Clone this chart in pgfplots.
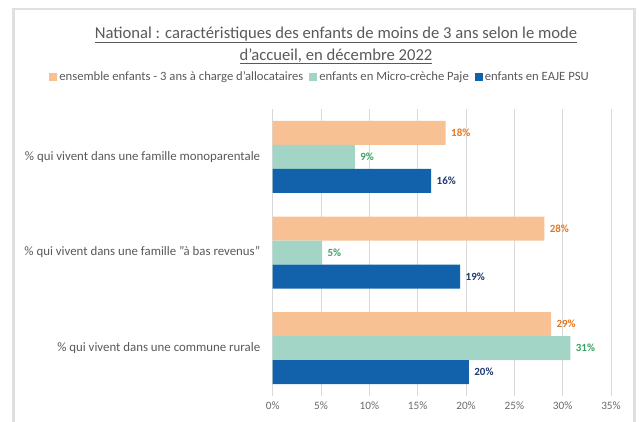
\documentclass[border=0pt]{standalone}
\usepackage{pgfplots}
\pgfplotsset{compat=1.18}
\usepackage{fontspec}
\setmainfont{Carlito}
\definecolor{cOr}{RGB}{248,193,147}
\definecolor{cGr}{RGB}{163,213,198}
\definecolor{cBl}{RGB}{17,98,171}
\definecolor{tOr}{RGB}{229,118,30}
\definecolor{tGr}{RGB}{58,160,100}
\definecolor{tBl}{RGB}{31,56,110}
\definecolor{txt}{RGB}{89,89,89}
\definecolor{grd}{RGB}{217,217,217}
\begin{document}
\begin{tikzpicture}[x=1bp,y=1bp]
\useasboundingbox (0,0) rectangle (639,421);
\draw[line width=2.5bp, color=black!12] (13.5,-5) -- (13.5,412) -- (634.5,412) -- (634.5,-5);
\node[anchor=base, font=\fontsize{16.7}{20}\selectfont, text=txt, inner sep=0] at (336,383) {\underline{National : caractéristiques des enfants de moins de 3 ans selon le mode}};
\node[anchor=base, font=\fontsize{16.7}{20}\selectfont, text=txt, inner sep=0] at (336,361) {\underline{d'accueil, en décembre 2022}};
\begin{axis}[
  at={(272.7bp,25bp)}, anchor=south west,
  scale only axis, width=338.3bp, height=287bp,
  xbar, bar width=24bp,
  xmin=0, xmax=35, ymin=-0.5, ymax=2.5,
  ytick={0,1,2},
  yticklabels={\% qui vivent dans une commune rurale, \% qui vivent dans une famille "à bas revenus", \% qui vivent dans une famille monoparentale},
  xtick={0,5,10,15,20,25,30,35},
  xticklabels={0\%,5\%,10\%,15\%,20\%,25\%,30\%,35\%},
  xmajorgrids, grid style={grd, line width=0.8bp},
  axis line style={draw=none},
  major tick length=0pt,
  xticklabel style={font=\fontsize{11.3}{13}\selectfont, text=txt!90, yshift=-2bp},
  yticklabel style={font=\fontsize{12.9}{15}\selectfont, text=txt, xshift=-9bp},
  clip=false,
  nodes near coords, point meta=explicit symbolic,
  every node near coord/.append style={font=\bfseries\fontsize{11}{13}\selectfont, anchor=west, yshift=0pt, xshift=2bp},
  legend columns=3,
  legend style={at={(0.14,1.1115)}, anchor=center, draw=none, fill=none,
    font=\fontsize{12.7}{14}\selectfont, text=txt,
    /tikz/every even column/.append style={column sep=4bp},
    inner sep=0pt},
  legend image code/.code={\fill[#1,draw=none] (0bp,-4bp) rectangle (8bp,4bp);},
]
\addplot[fill=cOr, draw=none, bar shift=24bp, every node near coord/.append style={text=tOr}] coordinates {
  (17.9,2) [18\%]
  (28.1,1) [28\%]
  (28.8,0) [29\%]
};
\addlegendentry{ensemble enfants - 3 ans à charge d'allocataires}
\addplot[fill=cGr, draw=none, bar shift=0bp, every node near coord/.append style={text=tGr}] coordinates {
  (8.5,2) [9\%]
  (5.1,1) [5\%]
  (30.8,0) [31\%]
};
\addlegendentry{enfants en Micro-crèche Paje}
\addplot[fill=cBl, draw=none, bar shift=-24bp, every node near coord/.append style={text=tBl}] coordinates {
  (16.4,2) [16\%]
  (19.4,1) [19\%]
  (20.3,0) [20\%]
};
\addlegendentry{enfants en EAJE PSU}
\end{axis}
\end{tikzpicture}
\end{document}
